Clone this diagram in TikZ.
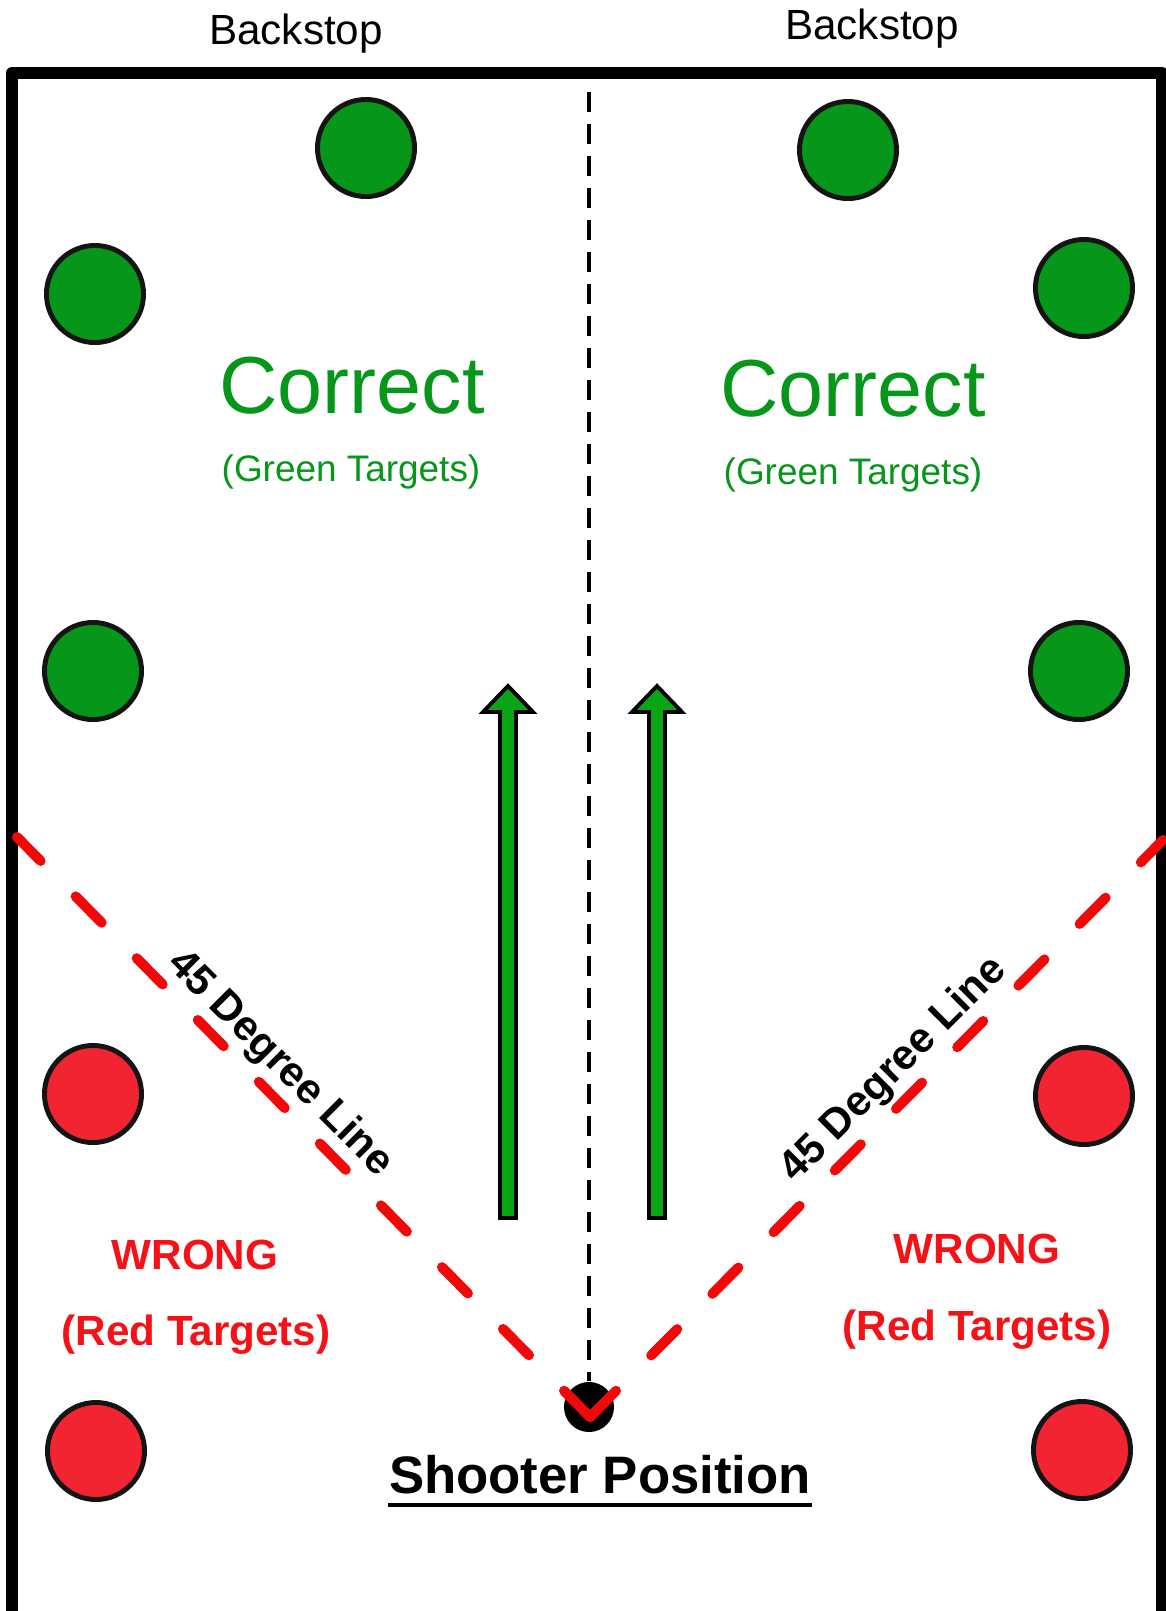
\documentclass[tikz,border=0pt]{standalone}
\usepackage{fontspec}
\setmainfont{Liberation Sans}
\usepackage{tikz}
\usetikzlibrary{calc, positioning}
\definecolor{rangegreen}{rgb}{0.024, 0.588, 0.102}
\definecolor{arrowgreen}{rgb}{0.031, 0.647, 0.078}
\definecolor{rangered}{rgb}{0.953, 0.141, 0.196}
\definecolor{dashred}{rgb}{0.945, 0.035, 0.035}
\definecolor{textred}{rgb}{0.965, 0.067, 0.090}

\begin{document}
\begin{tikzpicture}[
x=0.01cm, y=-0.01cm,
texts/.style = {text=black, inner sep=0pt, anchor=base},
wall/.style = {draw=black, line width=3.4pt, line join=round},
target/.style = {circle, draw=black!92, line width=1.4pt, minimum size=0.97cm, inner sep=0pt},
greentarget/.style = {target, fill=rangegreen},
redtarget/.style = {target, fill=rangered},
midline/.style = {draw=black, line width=0.95pt, dash pattern=on 5.7pt off 3.4pt},
angleline/.style = {draw=dashred, line width=2.85pt, line cap=round, dash pattern=on 10.5pt off 14.2pt},
uparrow/.style = {fill=arrowgreen, draw=black, line width=1.1pt, line join=miter},
stoptext/.style = {texts, font=\fontsize{12}{14}\selectfont},
correcttext/.style = {texts, text=rangegreen, font=\fontsize{23}{28}\selectfont},
greentext/.style = {texts, text=rangegreen, font=\fontsize{10.5}{13}\selectfont},
wrongtext/.style = {texts, text=textred, font=\bfseries\fontsize{12}{14}\selectfont},
linetext/.style = {texts, anchor=center, font=\bfseries\fontsize{12}{14}\selectfont}
]
\useasboundingbox (0,0) rectangle (1166,1611);

% walls of the range
\draw[wall] (12,1611) -- (12,73) -- (1162,73) -- (1162,1611);
\node[stoptext] (stopl) at (296,44) {Backstop};
\node[stoptext] (stopr) at (872,39) {Backstop};

% shooter and the lines from it
\node[circle, fill=black, minimum size=0.5cm, inner sep=0pt] (shooter) at (589,1407) {};
\coordinate (midtop) at (589,92);
\coordinate (vtx) at (590,1417);
\coordinate (walll) at (17,837);
\coordinate (wallr) at (1163,840);
\draw[midline] (midtop) -- (shooter.north);
\draw[angleline] (vtx) -- (walll);
\draw[angleline] (vtx) -- (wallr);

\foreach \ax in {508,657}
	\draw[uparrow] (\ax-8,1218) -- (\ax-8,712) -- (\ax-25,712) -- (\ax,686)
		-- (\ax+25,712) -- (\ax+8,712) -- (\ax+8,1218) -- cycle;

% targets
\node[greentarget] (gtopl) at (366,148) {};
\node[greentarget] (gtopr) at (848,150) {};
\node[greentarget] (gupl) at (95,294) {};
\node[greentarget] (gupr) at (1084,288) {};
\node[greentarget] (gmidl) at (93,671) {};
\node[greentarget] (gmidr) at (1079,671) {};
\node[redtarget] (rupl) at (93,1094) {};
\node[redtarget] (rupr) at (1084,1096) {};
\node[redtarget] (rlowl) at (96,1451) {};
\node[redtarget] (rlowr) at (1082,1450) {};

\node[correcttext] (okl) at (352,413) {Correct};
\node[correcttext] (okr) at (853,416) {Correct};
\node[greentext] (oklsub) at (351,481) {(Green Targets)};
\node[greentext] (okrsub) at (853,484) {(Green Targets)};
\node[wrongtext] (badl) at (195,1269) {WRONG};
\node[wrongtext] (badr) at (977,1263) {WRONG};
\node[wrongtext] (badlsub) at (196,1345) {(Red Targets)};
\node[wrongtext] (badrsub) at (977,1340) {(Red Targets)};

\node[linetext, rotate=-45] (degl) at (280,1064) {45 Degree Line};
\node[linetext, rotate=45] (degr) at (894,1070) {45 Degree Line};

\node[texts, font=\bfseries\fontsize{15}{18}\selectfont] (shootlbl) at (600,1493) {Shooter Position};
\draw[line width=1.1pt] ([yshift=-3.4pt]shootlbl.base west) -- ([yshift=-3.4pt]shootlbl.base east);
\end{tikzpicture}
\end{document}
